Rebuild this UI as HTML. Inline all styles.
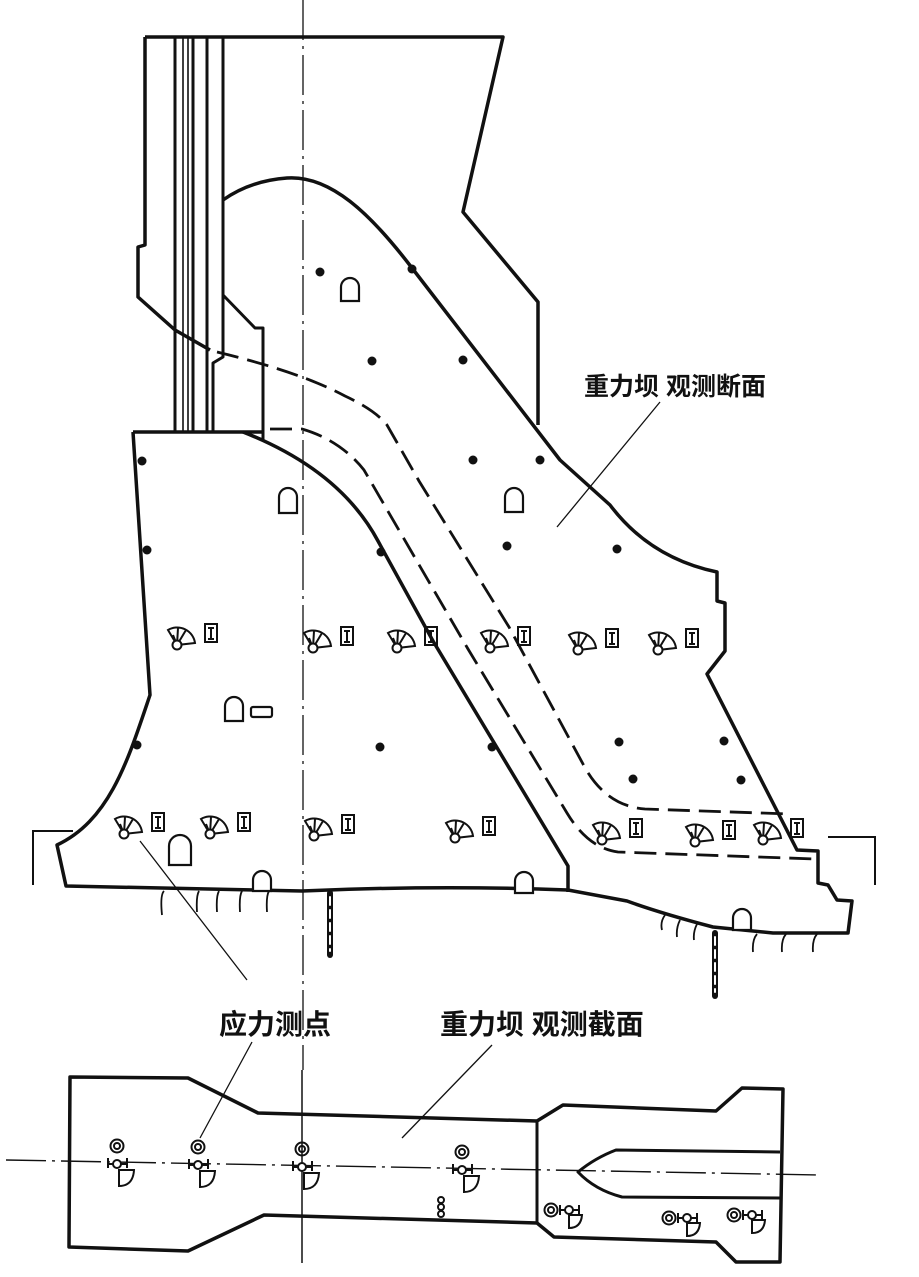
<!DOCTYPE html>
<html><head><meta charset="utf-8"><style>
html,body{margin:0;padding:0;background:#fff;}
svg{display:block;}
text{font-family:"Liberation Sans","Noto Sans CJK SC",sans-serif;font-weight:bold;fill:#111;}
</style></head><body>
<svg width="919" height="1277" viewBox="0 0 919 1277" xmlns="http://www.w3.org/2000/svg">
<defs>
<g id="fan" fill="none" stroke="#111" stroke-width="2">
<path d="M0,0 L-9,-15 A18,18 0 0 1 18,-2 Z" fill="#fff"/>
<path d="M0,0 L1,-17 M0,0 L9,-15 M0,0 L-4,-10"/>
<circle cx="0" cy="0" r="4.5" fill="#fff"/>
<rect x="28" y="-21" width="12" height="18" stroke-width="2"/>
<path d="M31,-17 H37 M34,-17 V-6 M31,-6 H37" stroke-width="2"/>
</g>
<g id="sen" fill="none" stroke="#111" stroke-width="2">
<circle cx="0" cy="-16" r="6.5"/><circle cx="0" cy="-16" r="3"/>
<circle cx="0" cy="2" r="4" fill="#fff"/>
<path d="M-9,-4 V6 M-4,2 H-9 M4,2 H10 M10,-4 V6"/>
<path d="M2,8 V24 Q16,24 17,8 Z" fill="#fff"/>
</g>
<g id="sen2" fill="none" stroke="#111" stroke-width="2">
<circle cx="0" cy="0" r="6.5"/><circle cx="0" cy="0" r="3"/>
<path d="M9,-5 V5 M9,0 H14"/>
<circle cx="18" cy="0" r="4" fill="#fff"/>
<path d="M22,0 H28 M28,-5 V5"/>
<path d="M18,5 V18 Q30,18 31,5 Z" fill="#fff"/>
</g>
</defs>

<!-- center line -->
<line x1="303" y1="0" x2="303" y2="1070" stroke="#111" stroke-width="1.3" stroke-dasharray="40,6,3,6"/>
<line x1="302" y1="1070" x2="302" y2="1263" stroke="#111" stroke-width="1.5"/>

<g fill="none" stroke="#111" stroke-width="3.5" stroke-linejoin="round">
<!-- top block -->
<path d="M145,37 L503,37 L463,212 L538,302 L538,425"/>
<path d="M145,37 L145,245 L138,247 L138,297 L175,330 L210,350"/>
<!-- stems -->
<path d="M175,37 V432 M193,37 V432 M207,37 V432 M223,37 V357 L213,363 V432" stroke-width="3"/>
<path d="M183,37 V432 M188,37 V432" stroke-width="1.6"/>
<path d="M223,295 L255,328 L263,328 L263,440 L243,432" stroke-width="3"/>
<!-- main outline -->
<path d="M133,432 L263,432"/>
<path d="M133,432 L150,695 C128,760 110,820 57,845 L66,886 L302,891 Q440,885 568,890 L627,901 Q660,913 713,927 L773,933 L848,933 L852,901 L837,900 L828,885 L818,883 L818,851 L797,850 L707,674 L725,651 L725,603 L717,601 L717,572 Q650,558 610,505 L560,460 L412,268 C370,213 330,175 287,178 C260,180 240,188 223,200"/>
<path d="M243,432 Q340,470 378,541 L433,641 L568,866 L568,892"/>
</g>
<!-- dashed galleries -->
<g fill="none" stroke="#111" stroke-width="2.8" stroke-dasharray="22,9">
<path d="M217,352 Q300,372 345,396 Q375,410 387,425 L419,481 L509,627 L583,764 Q605,806 645,809 L790,814"/>
<path d="M270,429 L302,429 Q340,440 364,470 L468,649 L567,813 Q588,848 618,852 L815,859"/>
</g>

<!-- dots -->
<g fill="#111">
<circle cx="320" cy="272" r="4.5"/><circle cx="412" cy="269" r="4.5"/>
<circle cx="372" cy="361" r="4.5"/><circle cx="463" cy="360" r="4.5"/>
<circle cx="142" cy="461" r="4.5"/><circle cx="147" cy="550" r="4.5"/><circle cx="137" cy="745" r="4.5"/>
<circle cx="381" cy="552" r="4.5"/><circle cx="380" cy="747" r="4.5"/><circle cx="492" cy="747" r="4.5"/>
<circle cx="473" cy="460" r="4.5"/><circle cx="540" cy="460" r="4.5"/>
<circle cx="507" cy="546" r="4.5"/><circle cx="617" cy="549" r="4.5"/>
<circle cx="619" cy="742" r="4.5"/><circle cx="724" cy="741" r="4.5"/>
<circle cx="633" cy="779" r="4.5"/><circle cx="741" cy="780" r="4.5"/>
</g>

<!-- tunnels -->
<g fill="#fff" stroke="#111" stroke-width="2.2">
<path d="M341,301 V287 A9,9 0 0 1 359,287 V301 Z"/>
<path d="M279,513 V497 A9,9 0 0 1 297,497 V513 Z"/>
<path d="M505,512 V497 A9,9 0 0 1 523,497 V512 Z"/>
<path d="M225,721 V706 A9,9 0 0 1 243,706 V721 Z"/>
<rect x="251" y="707" width="21" height="10" rx="2"/>
<path d="M169,865 V846 A11,11 0 0 1 191,846 V865 Z"/>
<path d="M253,891 V880 A9,9 0 0 1 271,880 V891 Z"/>
<path d="M515,893 V881 A9,9 0 0 1 533,881 V893 Z"/>
<path d="M733,930 V918 A9,9 0 0 1 751,918 V930 Z"/>
</g>

<!-- fan icons -->
<use href="#fan" x="177" y="645"/>
<use href="#fan" x="313" y="648"/>
<use href="#fan" x="397" y="648"/>
<use href="#fan" x="490" y="648"/>
<use href="#fan" x="578" y="650"/>
<use href="#fan" x="658" y="650"/>
<use href="#fan" x="124" y="834"/>
<use href="#fan" x="210" y="834"/>
<use href="#fan" x="314" y="836"/>
<use href="#fan" x="455" y="838"/>
<use href="#fan" x="602" y="840"/>
<use href="#fan" x="695" y="842"/>
<use href="#fan" x="763" y="840"/>

<!-- grout curtains -->
<g stroke="#111" stroke-linecap="round">
<line x1="330" y1="893" x2="330" y2="955" stroke-width="6"/>
<line x1="330" y1="897" x2="330" y2="951" stroke="#fff" stroke-width="2" stroke-dasharray="8,5"/>
<line x1="715" y1="933" x2="715" y2="996" stroke-width="6"/>
<line x1="715" y1="937" x2="715" y2="992" stroke="#fff" stroke-width="2" stroke-dasharray="8,5"/>
</g>
<!-- ticks -->
<g fill="none" stroke="#111" stroke-width="1.8">
<path d="M164,891 Q160,895 162,915 M199,891 Q196,896 197,912 M219,891 Q216,896 217,912 M242,891 Q239,896 240,912 M269,891 Q266,896 267,912"/>
<path d="M665,915 Q660,922 662,930 M680,920 Q676,928 677,937 M697,924 Q693,932 694,940 M757,934 Q752,940 753,952 M786,934 Q781,940 782,952 M817,934 Q812,940 813,952"/>
</g>
<!-- brackets -->
<path d="M73,831 H33 V885" fill="none" stroke="#111" stroke-width="2"/>
<path d="M828,837 H875 V885" fill="none" stroke="#111" stroke-width="2"/>

<!-- leaders -->
<g stroke="#111" stroke-width="1.3" fill="none">
<path d="M660,402 L557,527"/>
<path d="M140,841 L247,980"/>
<path d="M252,1042 L200,1138"/>
<path d="M492,1045 L402,1138"/>
</g>

<!-- labels -->
<text x="584" y="395" font-size="25">重力坝 观测断面</text>
<text x="219" y="1034" font-size="28">应力测点</text>
<text x="440" y="1034" font-size="28">重力坝 观测截面</text>

<!-- bottom plan -->
<g fill="none" stroke="#111" stroke-width="3.5" stroke-linejoin="round">
<path d="M70,1077 L188,1078 L258,1113 L537,1121 L563,1105 L716,1111 L742,1088 L783,1089 L780,1262 L736,1262 L716,1242 L554,1237 L537,1223 L264,1215 L188,1251 L69,1247 Z"/>
<path d="M537,1121 V1223" stroke-width="3"/>
<path d="M780,1152 L616,1150 Q595,1158 578,1172 Q595,1190 622,1197 L780,1198" stroke-width="3"/>
</g>
<line x1="6" y1="1160" x2="821" y2="1175" stroke="#111" stroke-width="1.4" stroke-dasharray="40,6,3,6"/>
<use href="#sen" x="117" y="1162"/>
<use href="#sen" x="198" y="1163"/>
<use href="#sen" x="302" y="1165"/>
<use href="#sen" x="462" y="1168"/>
<use href="#sen2" x="551" y="1210"/>
<use href="#sen2" x="669" y="1218"/>
<use href="#sen2" x="734" y="1215"/>
<g fill="none" stroke="#111" stroke-width="2">
<circle cx="441" cy="1200" r="3"/><circle cx="441" cy="1207" r="3"/><circle cx="441" cy="1214" r="3"/>
</g>
</svg>
</body></html>
